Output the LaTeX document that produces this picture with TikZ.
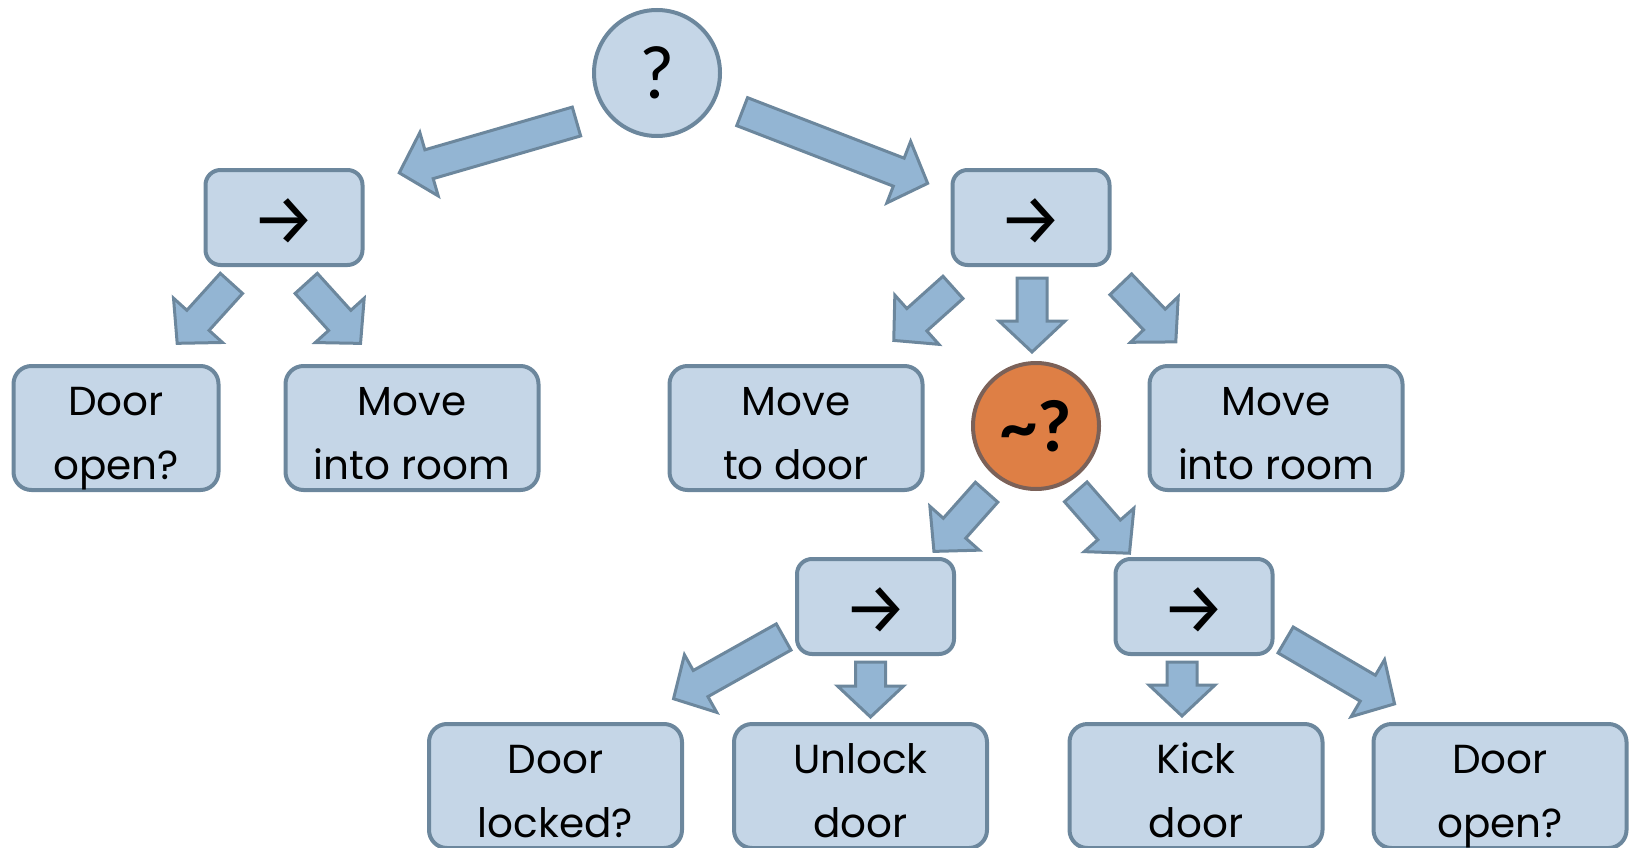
\documentclass[tikz,border=0pt]{standalone}
\usepackage{fontspec}
\setmainfont{Poppins}
\newfontfamily\qfont{Carlito}
\newfontfamily\arrfont{Fira Sans}
\usetikzlibrary{calc}
\definecolor{boxfill}{HTML}{C5D6E7}
\definecolor{boxline}{HTML}{6C879D}
\definecolor{arrfill}{HTML}{93B5D3}
\definecolor{negfill}{HTML}{DE7F45}
\definecolor{negline}{HTML}{7B6158}
\newcommand{\blockarrow}[2]{%
  \coordinate (ba-t) at (#1);
  \coordinate (ba-p) at (#2);
  \coordinate (ba-h) at ($(ba-p)!31pt!(ba-t)$);
  \filldraw[barrow] ($(ba-t)!15pt!90:(ba-p)$) -- ($(ba-h)!15pt!-90:(ba-t)$)
    -- ($(ba-h)!33pt!-90:(ba-t)$) -- (ba-p) -- ($(ba-h)!33pt!90:(ba-t)$)
    -- ($(ba-h)!15pt!90:(ba-t)$) -- ($(ba-t)!15pt!-90:(ba-p)$) -- cycle;}
\newcommand{\seqsym}{\raisebox{-4pt}[\height][\depth]{→}}

\begin{document}
\begin{tikzpicture}[x=1pt,y=-1pt,
    box/.style={draw=boxline, fill=boxfill, line width=4pt, rounded corners=18pt,
      minimum width=253pt, minimum height=124pt, inner sep=0pt, align=center,
      font=\fontsize{40.5}{64}\selectfont, text height=110pt, text depth=8pt},
    seqbox/.style={draw=boxline, fill=boxfill, line width=4pt, rounded corners=15pt,
      minimum width=157pt, minimum height=95pt, inner sep=0pt,
      font=\arrfont\fontsize{72}{72}\selectfont},
    selnode/.style={circle, draw=boxline, fill=boxfill, line width=4pt, minimum size=126pt,
      inner sep=0pt, font=\qfont\fontsize{76}{76}\selectfont},
    barrow/.style={draw=boxline, fill=arrfill, line width=3pt}]
\useasboundingbox (0,0) rectangle (1630,848);
\clip (0,0) rectangle (1630,848);
\node[selnode] (root) at (657,73) {?};
\node[seqbox] (seqL) at (284,217.5) {\seqsym};
\node[seqbox] (seqR) at (1031,217.5) {\seqsym};
\node[box, minimum width=205pt] (doorL) at (116,428) {Door\\open?};
\node[box] (moveL) at (412,428) {Move\\into room};
\node[box] (moveD) at (796,428) {Move\\to door};
\node[selnode, fill=negfill, draw=negline, font=\qfont\bfseries\fontsize{74}{74}\selectfont] (neg) at (1036,426) {\textasciitilde?};
\node[box] (moveR) at (1276,428) {Move\\into room};
\node[seqbox] (seq3) at (875.5,606.5) {\seqsym};
\node[seqbox] (seq4) at (1194,606.5) {\seqsym};
\node[box] (lockB) at (555.5,786) {Door\\locked?};
\node[box] (unlockB) at (860.5,786) {Unlock\\door};
\node[box] (kickB) at (1196,786) {Kick\\door};
\node[box] (openB) at (1500,786) {Door\\open?};
\blockarrow{$(root)!.232!(seqL)+(6,15)$}{$(root)!.691!(seqL)$}
\blockarrow{$(root)!.233!(seqR)+(-2,5)$}{$(root)!.729!(seqR)+(-2,5)$}
\blockarrow{$(seqL)!.313!(doorL)$}{$(seqL)!.612!(doorL)+(-4,-3)$}
\blockarrow{$(seqL)!.275!(moveL)+(-13,8)$}{$(seqL)!.598!(moveL)$}
\blockarrow{$(seqR)!.332!(moveD)$}{$(seqR)!.584!(moveD)$}
\blockarrow{$(seqR.south)+(1,11)$}{$(seqR.south |- neg.north)+(1,-9)$}
\blockarrow{$(seqR)!.346!(moveR)+(5,-6)$}{$(seqR)!.591!(moveR)$}
\blockarrow{$(neg)!.339!(seq3)+(5,5)$}{$(neg)!.667!(seq3)+(5,5)$}
\blockarrow{$(neg)!.315!(seq4)+(-10,9)$}{$(neg)!.655!(seq4)+(-10,9)$}
\blockarrow{$(seq3)!.259!(lockB)+(-9,-16)$}{$(seq3)!.603!(lockB)+(-9,-16)$}
\blockarrow{$(seq3.south)+(-5,6)$}{$(seq3.south |- unlockB.north)+(-5,-5)$}
\blockarrow{$(seq4.south)+(-12,6)$}{$(seq4.south |- kickB.north)+(-12,-6)$}
\blockarrow{$(seq4)!.27!(openB)+(9,-15)$}{$(seq4)!.626!(openB)+(9,-15)$}
\end{tikzpicture}
\end{document}
